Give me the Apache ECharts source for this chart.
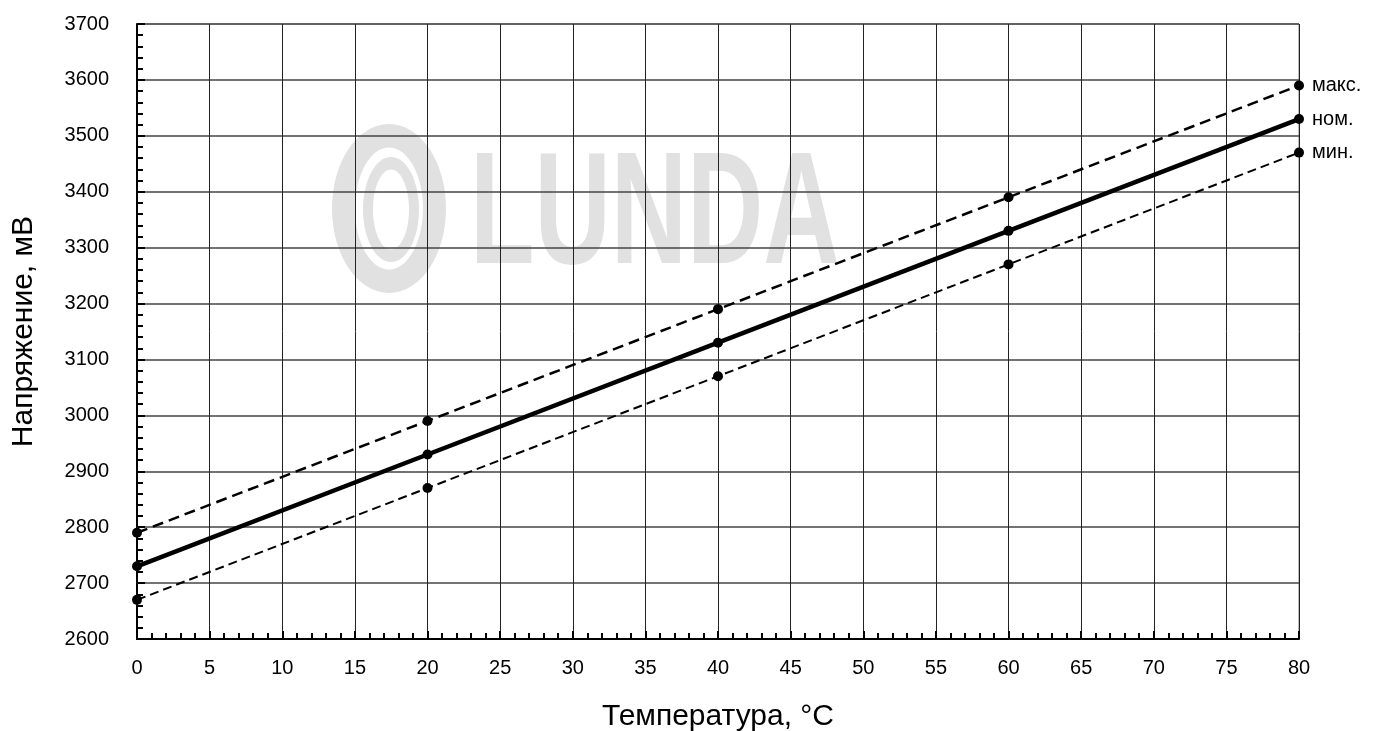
<!DOCTYPE html>
<html>
<head>
<meta charset="utf-8">
<script src="https://cdn.jsdelivr.net/npm/echarts@6/dist/echarts.min.js"></script>
<style>
html,body{margin:0;padding:0;background:#fff;}
#main{width:1375px;height:731px;}
</style>
</head>
<body>
<div id="main"></div>
<script>
var temperatures = [0, 20, 40, 60, 80];
var maxValues = [2790, 2990, 3190, 3390, 3590];
var nomValues = [2730, 2930, 3130, 3330, 3530];
var minValues = [2670, 2870, 3070, 3270, 3470];
var seriesNames = ['макс.', 'ном.', 'мин.'];
var xTitle = 'Температура, °С';
var yTitle = 'Напряжение, мВ';

var FONT = '"Liberation Sans", Arial, sans-serif';

function pairs(vals){ return temperatures.map(function(t,i){ return [t, vals[i]]; }); }

var chart = echarts.init(document.getElementById('main'), null, {renderer:'canvas'});
var wm = '#e1e1e1';
var option = {
  backgroundColor: '#ffffff',
  animation: false,
  grid: {left:137, right:76, top:24, bottom:92, containLabel:false, outerBoundsMode:'none',
         show:true, borderColor:'#777', borderWidth:1, backgroundColor:'transparent'},
  graphic: [
    {type:'ellipse', z:-10, silent:true, shape:{cx:389, cy:208.5, rx:57, ry:84.5}, style:{fill:wm}},
    {type:'ellipse', z:-9, silent:true, shape:{cx:389, cy:208.5, rx:34, ry:61}, style:{fill:'#fff'}},
    {type:'ellipse', z:-8, silent:true, shape:{cx:391, cy:209.5, rx:28, ry:52.5}, style:{fill:wm}},
    {type:'ellipse', z:-7, silent:true, shape:{cx:391, cy:209.5, rx:18, ry:40}, style:{fill:'#fff'}},
    {type:'text', z:-10, silent:true, x:470, y:139, originX:0, originY:0, scaleX:0.66,
      style:{text:'LUNDA', fill:wm, font:'bold 160px "Liberation Sans", Arial, sans-serif', align:'left', verticalAlign:'top'}}
  ],
  xAxis: {
    type:'value', min:0, max:80, interval:5,
    name: xTitle, nameLocation:'middle', nameGap:63,
    nameTextStyle:{fontFamily:FONT, fontSize:30, color:'#000'},
    axisLine:{show:true, lineStyle:{color:'#000', width:2}},
    axisTick:{show:true, inside:true, length:8, lineStyle:{color:'#000', width:2}},
    minorTick:{show:true, splitNumber:5, length:6, lineStyle:{color:'#000', width:2}},
    axisLabel:{fontFamily:FONT, fontSize:20, color:'#000', margin:19},
    splitLine:{show:true, lineStyle:{color:'#222', width:1}}
  },
  yAxis: {
    type:'value', min:2600, max:3700, interval:100,
    name: yTitle, nameLocation:'middle', nameGap:98, nameRotate:90,
    nameTextStyle:{fontFamily:FONT, fontSize:30, color:'#000'},
    axisLine:{show:true, lineStyle:{color:'#000', width:2}},
    axisTick:{show:true, inside:true, length:8, lineStyle:{color:'#000', width:2}},
    minorTick:{show:true, splitNumber:5, length:6, lineStyle:{color:'#000', width:2}},
    axisLabel:{fontFamily:FONT, fontSize:20, color:'#000', margin:28, formatter:function(v){return String(v);}},
    splitLine:{show:true, lineStyle:{color:'#444', width:1.5}}
  },
  series: [
    {name:seriesNames[0], type:'line', data:pairs(maxValues), symbol:'circle', symbolSize:10,
     lineStyle:{color:'#000', width:2.5, type:[11,6]}, itemStyle:{color:'#000'},
     endLabel:{show:true, formatter:seriesNames[0], distance:13, fontFamily:FONT, fontSize:20, color:'#000'}},
    {name:seriesNames[1], type:'line', data:pairs(nomValues), symbol:'circle', symbolSize:10,
     lineStyle:{color:'#000', width:4.5}, itemStyle:{color:'#000'},
     endLabel:{show:true, formatter:seriesNames[1], distance:13, fontFamily:FONT, fontSize:20, color:'#000'}},
    {name:seriesNames[2], type:'line', data:pairs(minValues), symbol:'circle', symbolSize:10,
     lineStyle:{color:'#000', width:2, type:[9,5]}, itemStyle:{color:'#000'},
     endLabel:{show:true, formatter:seriesNames[2], distance:13, fontFamily:FONT, fontSize:20, color:'#000'}}
  ]
};
chart.setOption(option);
</script>
</body>
</html>
